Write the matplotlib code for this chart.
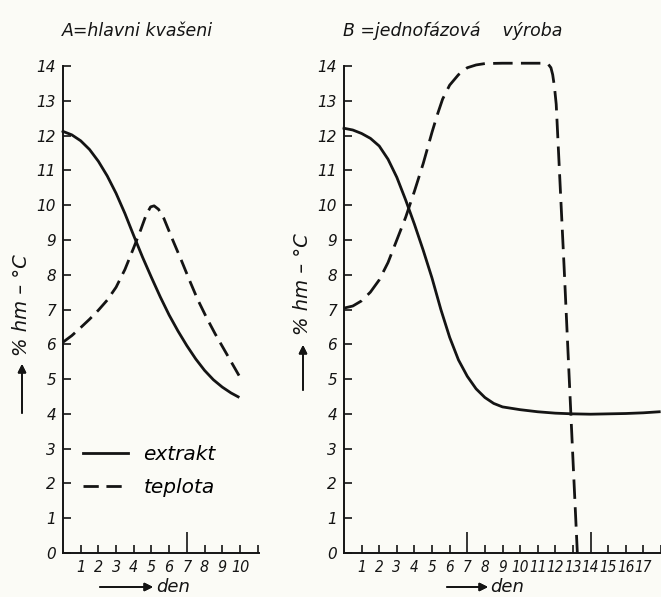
import matplotlib.pyplot as plt
from matplotlib import font_manager

# pick a narrow face for the crowded tick labels if it is there
names = {f.name for f in font_manager.fontManager.ttflist}
narrow = 'DejaVu Sans'
for cand in ['Liberation Sans Narrow', 'DejaVu Sans Condensed']:
    if cand in names:
        narrow = cand
        break

plt.rcParams['font.family'] = ['DejaVu Sans']
plt.rcParams['font.style'] = 'italic'
plt.rcParams['lines.scale_dashes'] = False

# A = hlavni kvaseni (days 0..10)
a_ext_days = [0, 0.5, 1, 1.5, 2, 2.5, 3, 3.5, 4, 4.5, 5, 5.5, 6, 6.5, 7, 7.5, 8, 8.5, 9, 9.5, 9.9]
a_ext = [12.12, 12.02, 11.85, 11.6, 11.26, 10.84, 10.34, 9.76, 9.12, 8.5, 7.92, 7.36, 6.84,
         6.38, 5.96, 5.58, 5.25, 4.98, 4.77, 4.6, 4.49]
a_tep_days = [0, 0.5, 1, 1.5, 2, 2.5, 3, 3.5, 4, 4.4, 4.7, 4.95, 5.15, 5.4, 5.7, 6.2, 6.7,
              7.15, 7.6, 8.1, 8.6, 9.05, 9.5, 9.95]
a_tep = [6.06, 6.25, 6.48, 6.72, 6.98, 7.27, 7.64, 8.15, 8.78, 9.3, 9.72, 9.95, 9.98, 9.88,
         9.62, 9.0, 8.4, 7.84, 7.3, 6.78, 6.3, 5.9, 5.5, 5.1]

# B = jednofazova vyroba (days 0..18)
b_ext_days = [0, 0.5, 1, 1.5, 2, 2.5, 3, 3.5, 4, 4.5, 5, 5.5, 6, 6.5, 7, 7.5, 8, 8.5, 9,
              10, 11, 12, 13, 14, 15, 16, 17, 17.9]
b_ext = [12.21, 12.16, 12.06, 11.92, 11.7, 11.32, 10.8, 10.15, 9.45, 8.7, 7.9, 7.0, 6.2,
         5.55, 5.08, 4.72, 4.47, 4.3, 4.2, 4.12, 4.06, 4.02, 4.0, 3.99, 4.0, 4.01, 4.03, 4.06]
b_tep_days = [0, 0.5, 1, 1.5, 2, 2.5, 3, 3.5, 4, 4.5, 5, 5.3, 5.6, 6, 6.5, 7, 7.5, 8, 9,
              10, 11.4, 11.6, 11.75, 11.85, 11.95, 12.05, 12.5, 13.0, 13.25]
b_tep = [7.04, 7.1, 7.25, 7.5, 7.85, 8.35, 9.0, 9.65, 10.4, 11.2, 12.1, 12.6, 13.05, 13.45,
         13.75, 13.95, 14.03, 14.07, 14.08, 14.08, 14.08, 14.05, 13.95, 13.75, 13.4, 12.9,
         8.2, 2.7, 0.0]

y_ticks = list(range(0, 15))
a_short = [1, 2, 3, 4, 5, 6, 8, 9, 10, 11]
a_long = [7]
b_short = [1, 2, 3, 4, 5, 6, 8, 9, 10, 11, 12, 13, 15, 16, 17, 18]
b_long = [7, 14]

W, H = 661, 597
fig = plt.figure(figsize=(W / 100, H / 100), dpi=100, facecolor='#fbfbf6')
ink = '#141414'


def setup(ax, xmax, short, long, xsize):
    ax.set_facecolor('none')
    ax.set_xlim(0, xmax)
    ax.set_ylim(0, 14)
    for s in ['top', 'right']:
        ax.spines[s].set_visible(False)
    for s in ['left', 'bottom']:
        ax.spines[s].set_linewidth(1.4)
        ax.spines[s].set_color(ink)
    ax.set_yticks(y_ticks, [str(v) for v in y_ticks])
    ax.tick_params(axis='y', direction='in', length=6, width=1.2, pad=5, labelsize=11,
                   colors=ink)
    lab = [str(v) for v in short]
    lab[-1] = ''
    ax.set_xticks(short, lab)
    ax.set_xticks(long, [str(v) for v in long], minor=True)
    ax.tick_params(axis='x', which='major', direction='in', length=5.5, width=1.2, pad=5,
                   labelsize=xsize, colors=ink)
    ax.tick_params(axis='x', which='minor', direction='in', length=15, width=1.2, pad=5,
                   labelsize=xsize, colors=ink)
    for t in ax.get_xticklabels(which='both'):
        t.set_fontfamily(narrow)
        t.set_fontstyle('italic')
        t.set_fontstretch('condensed')
    for t in ax.get_yticklabels():
        t.set_fontstyle('italic')


# left panel
axA = fig.add_axes([63 / W, 1 - 553 / H, (258.5 - 63) / W, (553 - 66) / H])
setup(axA, 11.05, a_short, a_long, 11.5)
axA.plot(a_ext_days, a_ext, color=ink, lw=2.0, clip_on=False, label='extrakt')
axA.plot(a_tep_days, a_tep, color=ink, lw=2.0, dashes=(11, 5.5), clip_on=False,
         label='teplota')
axA.legend(loc='upper left', bbox_to_anchor=(83 / W, 1 - 445 / H),
           bbox_transform=fig.transFigure, frameon=False, borderpad=0, borderaxespad=0,
           handlelength=2.25, handletextpad=0.75, labelspacing=0.7,
           prop={'size': 14.5, 'style': 'italic'})

# right panel
axB = fig.add_axes([344 / W, 1 - 553 / H, (661 - 344) / W, (553 - 66) / H])
setup(axB, 18.0, b_short, b_long, 11)
axB.plot(b_ext_days, b_ext, color=ink, lw=2.0, clip_on=False)
axB.plot(b_tep_days, b_tep, color=ink, lw=2.0, dashes=(14, 6), clip_on=False)

# titles
fig.text(62 / W, 1 - 31 / H, 'A=hlavni kvašeni', fontsize=12.5, va='center', ha='left',
         color=ink)
fig.text(343 / W, 1 - 31 / H, 'B =jednofázová    výroba', fontsize=12.5, va='center',
         ha='left', color=ink)

# axis labels with arrows
arrow = dict(arrowstyle='-|>', lw=1.3, color=ink, mutation_scale=12, shrinkA=0, shrinkB=0)
for x, yc, tail, head in [(22, 305, 413, 364), (303, 284, 390, 345)]:
    fig.text(x / W, 1 - yc / H, '% hm – °C', rotation=90, fontsize=14, ha='center',
             va='center', color=ink)
    fig.add_artist(plt.annotate('', xy=(x, H - head), xytext=(x, H - tail),
                                xycoords='figure pixels', textcoords='figure pixels',
                                arrowprops=arrow))
for x0, x1, tx, y in [(100, 153, 156, 587), (447, 488, 490, 587)]:
    fig.add_artist(plt.annotate('', xy=(x1, H - y), xytext=(x0, H - y),
                                xycoords='figure pixels', textcoords='figure pixels',
                                arrowprops=arrow))
    fig.text(tx / W, 1 - y / H, 'den', fontsize=13, ha='left', va='center', color=ink)

fig.savefig('out.png', dpi=100, facecolor=fig.get_facecolor())
